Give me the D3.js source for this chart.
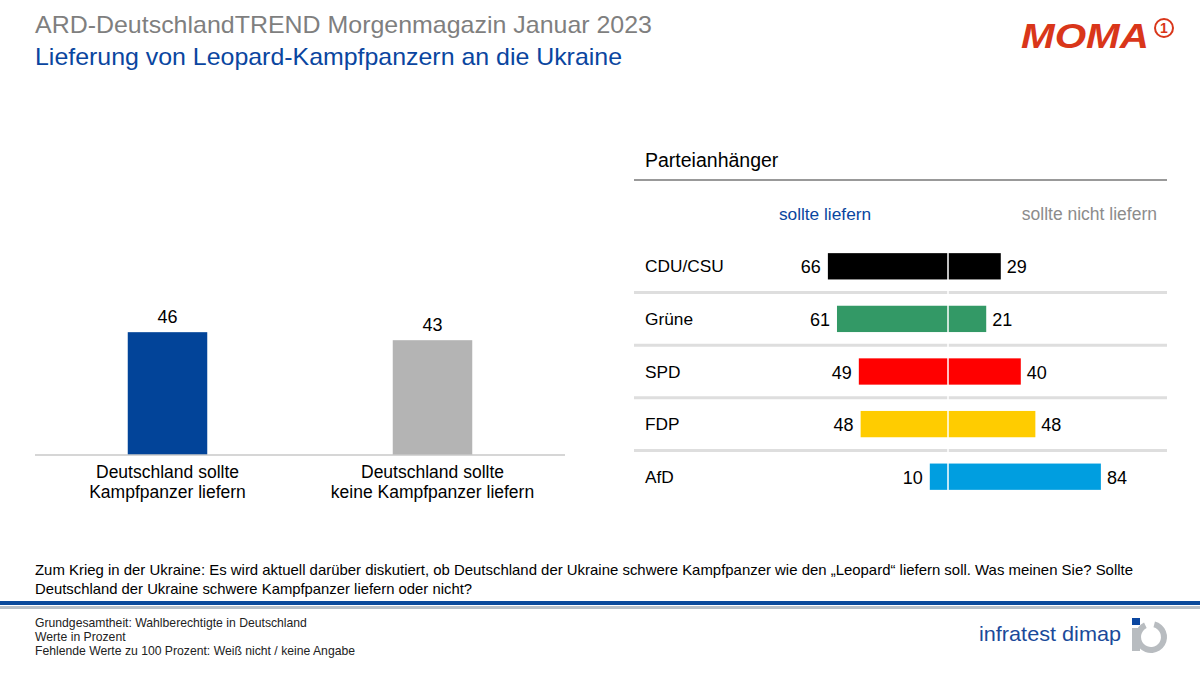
<!DOCTYPE html>
<html>
<head>
<meta charset="utf-8">
<script src="https://cdn.jsdelivr.net/npm/d3@7"></script>
<style>
  body { margin: 0; background: #fff; }
  svg text { font-family: "Liberation Sans", Arial, sans-serif; }
</style>
</head>
<body>
<svg id="chart" width="1200" height="675"></svg>
<script>
// totals
var totalCats = ["Deutschland sollte\nKampfpanzer liefern", "Deutschland sollte\nkeine Kampfpanzer liefern"];
var totalValues = [46, 43];

// party supporters
var parties = ["CDU/CSU", "Grüne", "SPD", "FDP", "AfD"];
var proValues = [66, 61, 49, 48, 10];
var contraValues = [29, 21, 40, 48, 84];

var footerLines = [
  "Grundgesamtheit:  Wahlberechtigte in Deutschland",
  "Werte in Prozent",
  "Fehlende  Werte zu 100 Prozent: Weiß nicht / keine Angabe"
];
var questionLines = [
  "Zum Krieg in der Ukraine: Es wird aktuell darüber diskutiert, ob Deutschland der Ukraine schwere Kampfpanzer wie den „Leopard“ liefern soll. Was meinen Sie? Sollte",
  "Deutschland der Ukraine schwere Kampfpanzer liefern oder nicht?"
];

var svg = d3.select("#chart");

// header
svg.append("text").attr("x", 35).attr("y", 33)
  .attr("fill", "#7f7f7f").style("font-size", "24px")
  .attr("textLength", 617).attr("lengthAdjust", "spacingAndGlyphs")
  .text("ARD-DeutschlandTREND Morgenmagazin Januar 2023");
svg.append("text").attr("x", 35).attr("y", 65)
  .attr("fill", "#0a46a0").style("font-size", "24px")
  .attr("textLength", 587).attr("lengthAdjust", "spacingAndGlyphs")
  .text("Lieferung von Leopard-Kampfpanzern an die Ukraine");

// MOMA logo
svg.append("text").attr("x", 1021).attr("y", 48)
  .attr("fill", "#d9361a").style("font-size", "35px").style("font-weight", "900")
  .style("font-style", "italic").attr("textLength", 128).attr("lengthAdjust", "spacingAndGlyphs")
  .text("MOMA");
svg.append("circle").attr("cx", 1164).attr("cy", 28).attr("r", 9)
  .attr("fill", "none").attr("stroke", "#d9361a").attr("stroke-width", 2);
svg.append("text").attr("x", 1164).attr("y", 33).attr("text-anchor", "middle")
  .attr("fill", "#d9361a").style("font-size", "14px").style("font-weight", "bold")
  .text("1");

// ---- left chart: totals
var x = d3.scaleBand().domain(totalCats).range([35, 565]).paddingInner(0.7).paddingOuter(0.35);
var y = d3.scaleLinear().domain([0, 100]).range([455, 188]);
var totalColor = d3.scaleOrdinal().domain(totalCats).range(["#024499", "#b4b4b4"]);

var left = svg.append("g");
left.selectAll("rect")
  .data(totalCats)
  .enter()
  .append("rect")
  .attr("x", d => x(d))
  .attr("width", x.bandwidth())
  .attr("y", (d, i) => y(totalValues[i]))
  .attr("height", (d, i) => y(0) - y(totalValues[i]))
  .attr("fill", d => totalColor(d));

left.selectAll(".val")
  .data(totalCats)
  .enter()
  .append("text")
  .attr("class", "val")
  .attr("x", d => x(d) + x.bandwidth() / 2)
  .attr("y", (d, i) => y(totalValues[i]) - 9)
  .attr("text-anchor", "middle")
  .style("font-size", "18px")
  .text((d, i) => totalValues[i]);

left.append("line")
  .attr("x1", 35).attr("x2", 565).attr("y1", y(0)).attr("y2", y(0))
  .attr("stroke", "#c8c8c8").attr("stroke-width", 1.5);

left.selectAll(".cat")
  .data(totalCats)
  .enter()
  .append("text")
  .attr("class", "cat")
  .attr("text-anchor", "middle")
  .style("font-size", "17.5px")
  .each(function(d) {
    var t = d3.select(this);
    d.split("\n").forEach((line, i) => {
      t.append("tspan").attr("x", x(d) + x.bandwidth() / 2).attr("y", 478 + i * 20).text(line);
    });
  });

// ---- right chart: party supporters
var right = svg.append("g");
right.append("text").attr("x", 645).attr("y", 167).style("font-size", "19.5px").text("Parteianhänger");
right.append("line").attr("x1", 634).attr("x2", 1167).attr("y1", 180).attr("y2", 180)
  .attr("stroke", "#999").attr("stroke-width", 2);

right.append("text").attr("x", 825).attr("y", 220).attr("text-anchor", "middle")
  .attr("fill", "#0a46a0").style("font-size", "17.3px").text("sollte liefern");
right.append("text").attr("x", 1157).attr("y", 220).attr("text-anchor", "end")
  .attr("fill", "#8c8c8c").style("font-size", "17.5px").text("sollte nicht liefern");

var center = 948;
var xPro = d3.scaleLinear().domain([0, 100]).range([center, center - 182]);
var xCon = d3.scaleLinear().domain([0, 100]).range([center, center + 182]);
var yP = d3.scaleBand().domain(parties).range([240, 503]).paddingInner(0.5).paddingOuter(0.25);
var partyColor = d3.scaleOrdinal().domain(parties)
  .range(["#000000", "#339966", "#ff0000", "#ffcc00", "#009ee0"]);

// separators
right.selectAll(".sep")
  .data(parties.slice(0, -1))
  .enter()
  .append("line")
  .attr("class", "sep")
  .attr("x1", 634).attr("x2", 1167)
  .attr("y1", d => yP(d) + yP.bandwidth() + yP.step() * 0.25)
  .attr("y2", d => yP(d) + yP.bandwidth() + yP.step() * 0.25)
  .attr("stroke", "#dedede").attr("stroke-width", 3);

var rows = right.selectAll(".row")
  .data(parties)
  .enter()
  .append("g")
  .attr("class", "row");

rows.append("text")
  .attr("x", 645)
  .attr("y", d => yP(d) + yP.bandwidth() / 2 + 6)
  .style("font-size", "17.3px")
  .text(d => d);

rows.append("rect")
  .attr("x", (d, i) => xPro(proValues[i]))
  .attr("width", (d, i) => center - xPro(proValues[i]))
  .attr("y", d => yP(d))
  .attr("height", yP.bandwidth())
  .attr("fill", d => partyColor(d));

rows.append("rect")
  .attr("x", center)
  .attr("width", (d, i) => xCon(contraValues[i]) - center)
  .attr("y", d => yP(d))
  .attr("height", yP.bandwidth())
  .attr("fill", d => partyColor(d));

rows.append("text")
  .attr("x", (d, i) => xPro(proValues[i]) - 7)
  .attr("y", d => yP(d) + yP.bandwidth() / 2 + 7)
  .attr("text-anchor", "end")
  .style("font-size", "18px")
  .text((d, i) => proValues[i]);

rows.append("text")
  .attr("x", (d, i) => xCon(contraValues[i]) + 6)
  .attr("y", d => yP(d) + yP.bandwidth() / 2 + 7)
  .style("font-size", "18px")
  .text((d, i) => contraValues[i]);

// white center line
right.append("line")
  .attr("x1", center).attr("x2", center).attr("y1", 245).attr("y2", 495)
  .attr("stroke", "#fff").attr("stroke-width", 1.5);

// ---- question + footer
var qLen = [1098, 437];
svg.selectAll(".q")
  .data(questionLines)
  .enter()
  .append("text")
  .attr("class", "q")
  .attr("x", 35)
  .attr("y", (d, i) => 575 + i * 19)
  .style("font-size", "14.5px")
  .attr("textLength", (d, i) => qLen[i])
  .attr("lengthAdjust", "spacingAndGlyphs")
  .text(d => d);

svg.append("rect").attr("x", 0).attr("y", 601).attr("width", 1200).attr("height", 4).attr("fill", "#0a4a9c");
svg.append("rect").attr("x", 0).attr("y", 606).attr("width", 1200).attr("height", 3).attr("fill", "#b8c0c8");

svg.selectAll(".foot")
  .data(footerLines)
  .enter()
  .append("text")
  .attr("class", "foot")
  .attr("x", 35)
  .attr("y", (d, i) => 627 + i * 14)
  .attr("fill", "#222")
  .style("font-size", "12.2px")
  .text(d => d);

// infratest dimap logo
svg.append("text").attr("x", 979).attr("y", 641)
  .attr("fill", "#1a4a9a").style("font-size", "21px")
  .attr("textLength", 142).attr("lengthAdjust", "spacingAndGlyphs")
  .text("infratest dimap");
svg.append("rect").attr("x", 1132).attr("y", 618).attr("width", 8).attr("height", 7).attr("fill", "#0a46a0");
var arc = d3.arc().innerRadius(10).outerRadius(16).startAngle(0.25).endAngle(Math.PI * 2 - 0.45);
svg.append("path").attr("d", arc()).attr("transform", "translate(1151,637)").attr("fill", "#b8bcc0");
svg.append("rect").attr("x", 1132).attr("y", 628).attr("width", 8).attr("height", 23).attr("fill", "#b8bcc0");
</script>
</body>
</html>
